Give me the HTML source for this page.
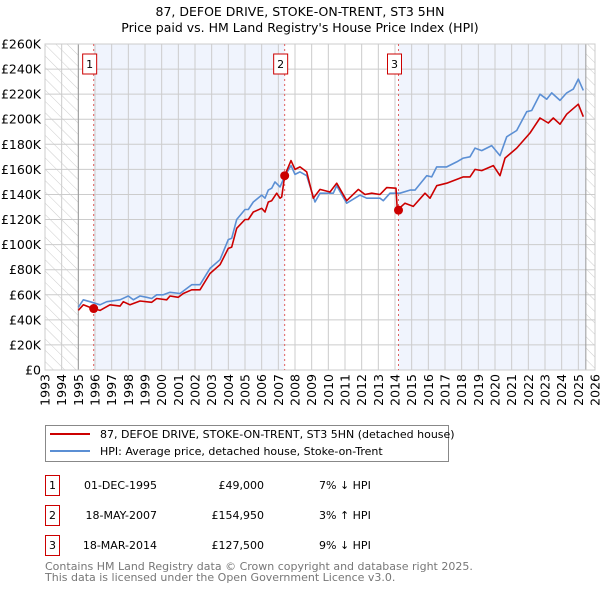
<!DOCTYPE html>
<html><head><meta charset="utf-8"><style>
body{margin:0;background:#fff;width:600px;height:590px;overflow:hidden;font-family:"DejaVu Sans","Liberation Sans",sans-serif}
svg text{font-family:"DejaVu Sans","Liberation Sans",sans-serif}
</style></head><body>
<svg id="c" width="600" height="590">
<defs><pattern id="hatch" width="8" height="8" patternUnits="userSpaceOnUse" patternTransform="rotate(-45)"><line x1="0" y1="0" x2="0" y2="8" stroke="#ccc" stroke-width="1"/></pattern></defs>
<text x="300" y="16" text-anchor="middle" font-size="12.5">87, DEFOE DRIVE, STOKE-ON-TRENT, ST3 5HN</text>
<text x="300" y="32" text-anchor="middle" font-size="12.5">Price paid vs. HM Land Registry's House Price Index (HPI)</text>
<g id="plot"></g>
<g>
<rect x="45.5" y="425.5" width="403" height="36" fill="#fff" stroke="#888"/>
<line x1="50" y1="434" x2="90" y2="434" stroke="#cc0000" stroke-width="2"/>
<text x="100" y="438" font-size="11">87, DEFOE DRIVE, STOKE-ON-TRENT, ST3 5HN (detached house)</text>
<line x1="50" y1="451" x2="90" y2="451" stroke="#5b8fd4" stroke-width="2"/>
<text x="100" y="455" font-size="11">HPI: Average price, detached house, Stoke-on-Trent</text>
</g>
<g id="table" font-size="11"></g>
<text x="45" y="570" font-size="11" fill="#777">Contains HM Land Registry data © Crown copyright and database right 2025.</text>
<text x="45" y="581" font-size="11" fill="#777">This data is licensed under the Open Government Licence v3.0.</text>
</svg>
<script>
const hpiYears=[1995.0,1995.3,1995.7,1996.3,1996.7,1997.5,1998.0,1998.3,1998.7,1999.1,1999.4,1999.7,2000.1,2000.5,2001.1,2001.5,2001.8,2002.3,2002.9,2003.5,2004.0,2004.2,2004.5,2005.0,2005.2,2005.5,2006.0,2006.2,2006.4,2006.6,2006.8,2007.1,2007.4,2007.76,2008.0,2008.3,2008.7,2009.2,2009.5,2010.3,2010.5,2011.1,2011.9,2012.3,2013.1,2013.3,2013.7,2014.3,2014.9,2015.2,2015.9,2016.2,2016.5,2017.1,2017.7,2018.1,2018.5,2018.8,2019.2,2019.8,2020.3,2020.7,2021.3,2021.9,2022.2,2022.7,2023.1,2023.4,2023.9,2024.3,2024.7,2025.0,2025.3];
const hpiValues=[50,56,54.5,52,54.5,56,59,56,59,58,57,60,60,62,61,65,68,68,81,88,104,105,120,128,128,134,139.5,137,143.5,145,150,146,155,163,156,158,155,134,141,141,147,133,139.5,137,137,135,141,141,143.5,143.5,155,154,162,162,166,169,170,177,175,179,171,186,191,206,207,220,216,221,215,221,224,232,223];
const priceYears=[1995.0,1995.3,1995.9,1996.3,1996.9,1997.5,1997.7,1998.1,1998.7,1999.4,1999.7,2000.3,2000.5,2001.0,2001.3,2001.8,2002.3,2002.9,2003.5,2004.0,2004.2,2004.5,2005.0,2005.2,2005.5,2006.0,2006.2,2006.4,2006.6,2006.9,2007.1,2007.2,2007.38,2007.76,2008.0,2008.3,2008.7,2009.1,2009.5,2010.1,2010.5,2011.1,2011.8,2012.2,2012.6,2013.1,2013.5,2014.06,2014.14,2014.6,2015.1,2015.8,2016.1,2016.5,2017.1,2018.1,2018.5,2018.8,2019.2,2019.9,2020.3,2020.6,2021.3,2022.1,2022.7,2023.2,2023.5,2023.9,2024.3,2025.0,2025.3];
const priceValues=[47.5,52,49,47.5,52,51,54.5,52,55,54,57,56,59,58,61,64,64,77,84,97,98,113,120,120,126,129,126,134,135,141,137,138,154.95,167,160,162,158,137,144,142,149,135,144,140,141,140,145.5,145,127.5,133,130.5,141,137,147,149,154,154,160,159,163,155,169,177,189,201,197,201,196,204,212,202];
const yTicks=[0,20,40,60,80,100,120,140,160,180,200,220,240,260];
const xTicks=[1993,1994,1995,1996,1997,1998,1999,2000,2001,2002,2003,2004,2005,2006,2007,2008,2009,2010,2011,2012,2013,2014,2015,2016,2017,2018,2019,2020,2021,2022,2023,2024,2025,2026];
const saleYears=[1995.92,2007.38,2014.21];
const saleValues=[49,154.95,127.5];
const saleLabels=["1","2","3"];
const saleDates=["01-DEC-1995","18-MAY-2007","18-MAR-2014"];
const salePrices=["£49,000","£154,950","£127,500"];
const saleDiffs=["7% ↓ HPI","3% ↑ HPI","9% ↓ HPI"];

const NS="http://www.w3.org/2000/svg";
const L=45,R=595,T=44,B=370;
const X=y=>L+(y-1993)/(2026-1993)*(R-L);
const Y=v=>B-v/260*(B-T);
function mk(tag,attrs,parent){const e=document.createElementNS(NS,tag);for(const k in attrs)e.setAttribute(k,attrs[k]);parent.appendChild(e);return e;}
const g=document.getElementById('plot');
let bg=mk('rect',{x:L,y:T,width:R-L,height:B-T,fill:'#fff'},g);


const bands=[[saleYears[0],saleYears[1]],[saleYears[2],2025.45]];
bands.forEach(b=>{const r=mk('rect',{x:X(b[0]),y:T,width:X(b[1])-X(b[0]),height:B-T,fill:'#f0f4fd'},g);

});
let h1=mk('rect',{x:L,y:T,width:X(1995)-L,height:B-T,fill:'url(#hatch)'},g);


let h2=mk('rect',{x:X(2025.45),y:T,width:R-X(2025.45),height:B-T,fill:'url(#hatch)'},g);


yTicks.forEach(v=>{const l=mk('line',{x1:L,x2:R,y1:Y(v),y2:Y(v),stroke:'#ccc'},g);


const t=mk('text',{x:L-4,y:Y(v)+4.5,'text-anchor':'end','font-size':'12.5'},g);t.textContent=v===0?'£0':'£'+v+'K';

});
xTicks.forEach(yr=>{const l=mk('line',{x1:X(yr),x2:X(yr),y1:T,y2:B,stroke:'#ccc'},g);


const t=mk('text',{x:0,y:0,'text-anchor':'end','font-size':'12.5',transform:`translate(${X(yr)+4.5},374) rotate(-90)`},g);t.textContent=yr;

});
[X(1995),X(2025.45)].forEach(x=>{const l=mk('line',{x1:x,x2:x,y1:T,y2:B,stroke:'#999'},g);

});
let fr=mk('rect',{x:L,y:T,width:R-L,height:B-T,fill:'none',stroke:'#ccc'},g);


saleYears.forEach(s=>{const l=mk('line',{x1:X(s),x2:X(s),y1:T,y2:B,stroke:'#e06060','stroke-dasharray':'2,3','stroke-width':1},g);

});
const pts=(xs,vs)=>xs.map((x,i)=>X(x).toFixed(1)+','+Y(vs[i]).toFixed(1)).join(' ');
let hp=mk('polyline',{points:pts(hpiYears,hpiValues),fill:'none',stroke:'#5b8fd4','stroke-width':1.6,'stroke-linejoin':'round'},g);


let pp=mk('polyline',{points:pts(priceYears,priceValues),fill:'none',stroke:'#cc0000','stroke-width':1.6,'stroke-linejoin':'round'},g);


saleYears.forEach((s,i)=>{const c=mk('circle',{cx:X(s),cy:Y(saleValues[i]),r:4.5,fill:'#cc0000'},g);


const r=mk('rect',{x:X(s)-11,y:54,width:14,height:20,fill:'#fff',stroke:'#cc0000'},g);


const t=mk('text',{x:X(s)-4,y:68,'text-anchor':'middle','font-size':'11'},g);t.textContent=saleLabels[i];

});
const tb=document.getElementById('table');
saleLabels.forEach((lab,i)=>{const y0=475+i*30;
const r=mk('rect',{x:45.5,y:y0+0.5,width:14,height:20,fill:'#fff',stroke:'#cc0000'},tb);


const cells=[[52.5,lab,'middle'],[157,saleDates[i],'end'],[264,salePrices[i],'end'],[319,saleDiffs[i],'start']];
cells.forEach((c,j)=>{const t=mk('text',{x:c[0],y:y0+14,'text-anchor':c[2]},tb);t.textContent=c[1];

});});
</script>
</body></html>
